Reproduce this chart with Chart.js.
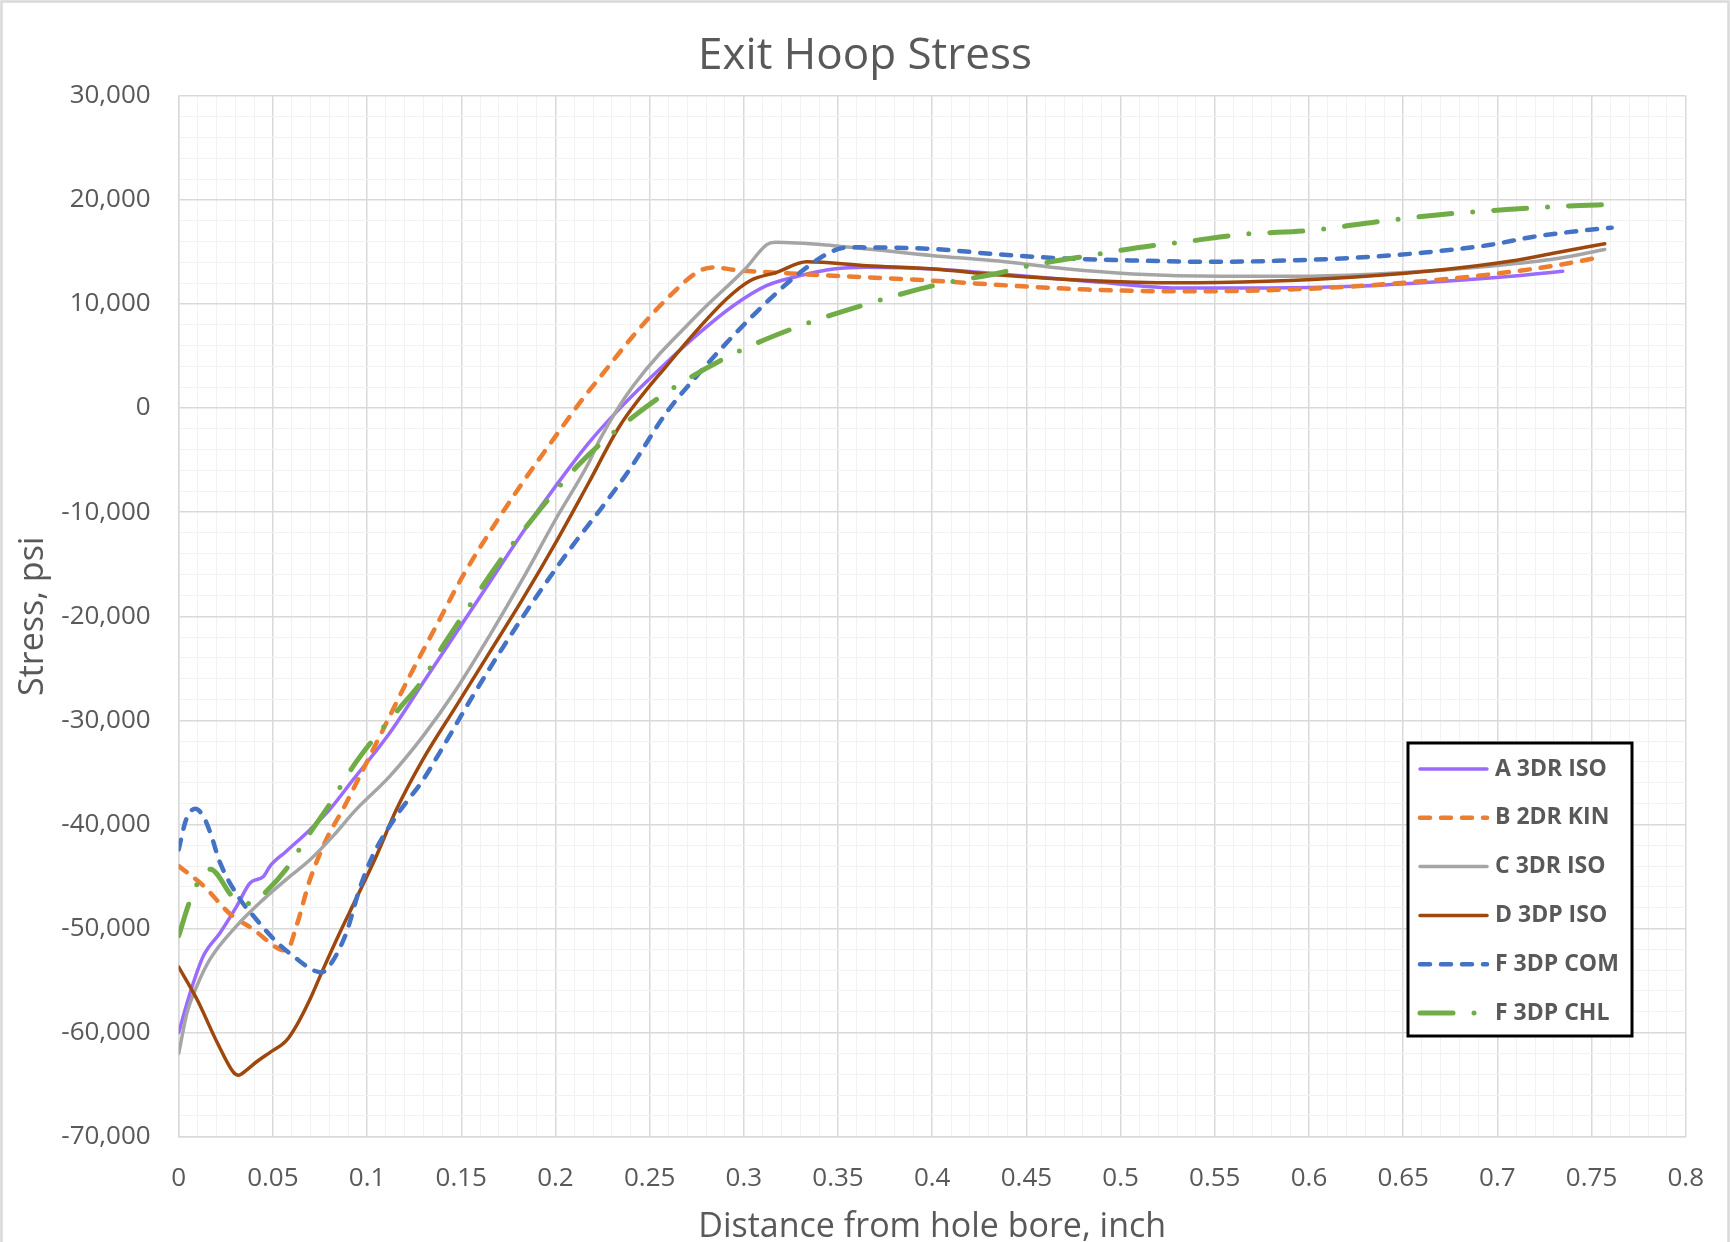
<!DOCTYPE html>
<html>
<head>
<meta charset="utf-8">
<title>Exit Hoop Stress</title>
<script src="https://cdn.jsdelivr.net/npm/chart.js@4.4.1/dist/chart.umd.min.js"></script>
<style>
  html, body { margin: 0; padding: 0; background: #fff; }
  canvas { display: block; }
</style>
</head>
<body>
<canvas id="chart" width="1730" height="1242"></canvas>
<script>
// series names, in legend order
const seriesNames = ['A 3DR ISO', 'B 2DR KIN', 'C 3DR ISO', 'D 3DP ISO', 'F 3DP COM', 'F 3DP CHL'];

// A 3DR ISO
const xA = [0, 0.0062, 0.0132, 0.022, 0.031, 0.038, 0.045, 0.0485, 0.057, 0.0697, 0.08, 0.0926, 0.112, 0.1296, 0.1472, 0.1648, 0.1824, 0.2, 0.2176, 0.2352, 0.259, 0.2767, 0.2944, 0.312, 0.33, 0.3476, 0.3653, 0.4006, 0.436, 0.489, 0.53, 0.5773, 0.6246, 0.672, 0.7074, 0.7347];
const yA = [-60000, -56100, -52600, -50400, -47800, -45600, -45000, -44000, -42600, -40500, -38600, -35700, -31220, -26420, -21610, -16810, -12010, -7520, -3360, 160, 4380, 7270, 9830, 11760, 12720, 13360, 13520, 13360, 12880, 12080, 11540, 11540, 11700, 12190, 12670, 13150];

// B 2DR KIN
const xB = [0, 0.0132, 0.0273, 0.0397, 0.0538, 0.0573, 0.0626, 0.0697, 0.0785, 0.0873, 0.0961, 0.1102, 0.1225, 0.1366, 0.1507, 0.1648, 0.1824, 0.2, 0.2141, 0.2236, 0.2413, 0.259, 0.2767, 0.2847, 0.2944, 0.33, 0.3653, 0.4006, 0.436, 0.4827, 0.53, 0.5773, 0.6246, 0.66, 0.6955, 0.7311, 0.7547];
const yB = [-44000, -45900, -48600, -50100, -52000, -52100, -49700, -45300, -41400, -38500, -35380, -30260, -25780, -20970, -16170, -12010, -7200, -2720, 800, 2950, 6950, 10470, 13200, 13520, 13290, 12880, 12560, 12240, 11820, 11380, 11220, 11320, 11700, 12190, 12830, 13700, 14500];

// C 3DR ISO
const xC = [0, 0.0044, 0.0097, 0.0168, 0.031, 0.045, 0.057, 0.0697, 0.082, 0.094, 0.112, 0.1296, 0.1472, 0.1648, 0.1824, 0.2, 0.2176, 0.2236, 0.2413, 0.2767, 0.3007, 0.3122, 0.3166, 0.3476, 0.4006, 0.4353, 0.4708, 0.5063, 0.5536, 0.601, 0.6484, 0.6956, 0.7311, 0.757];
const yC = [-62000, -58100, -55500, -52900, -49700, -47200, -45300, -43400, -41100, -38600, -35380, -31540, -27060, -21930, -16490, -10730, -5280, -3000, 2145, 9200, 13360, 15700, 15920, 15600, 14640, 14120, 13380, 12890, 12670, 12670, 12990, 13630, 14340, 15240];

// D 3DP ISO
const xD = [0, 0.0097, 0.0203, 0.029, 0.0317, 0.036, 0.0414, 0.0485, 0.057, 0.0626, 0.0697, 0.0767, 0.0855, 0.094, 0.105, 0.1155, 0.1296, 0.1472, 0.1648, 0.1824, 0.2, 0.2176, 0.2342, 0.259, 0.2908, 0.3033, 0.3174, 0.3334, 0.3653, 0.4006, 0.436, 0.4827, 0.53, 0.5773, 0.6246, 0.672, 0.7074, 0.7311, 0.757];
const yD = [-53700, -56800, -60900, -63800, -64100, -63600, -62800, -61900, -60800, -59300, -56800, -53900, -50400, -47200, -43000, -38600, -33780, -28660, -23540, -18410, -12970, -7200, -1700, 4060, 10470, 12240, 13040, 14060, 13680, 13360, 12780, 12250, 12030, 12190, 12600, 13310, 14120, 14920, 15790];

// F 3DP COM
const xE = [0, 0.004, 0.0088, 0.013, 0.0168, 0.022, 0.0326, 0.0397, 0.052, 0.0626, 0.0714, 0.0758, 0.08, 0.089, 0.096, 0.103, 0.1155, 0.1298, 0.1384, 0.156, 0.1736, 0.1912, 0.2088, 0.2264, 0.2395, 0.259, 0.2767, 0.2944, 0.312, 0.33, 0.3476, 0.3565, 0.4006, 0.4353, 0.4708, 0.5063, 0.5489, 0.5891, 0.6246, 0.66, 0.6955, 0.7193, 0.7429, 0.7607];
const yE = [-42400, -39500, -38500, -39200, -40800, -43700, -47200, -48800, -51300, -52900, -54000, -54200, -53600, -50400, -46200, -43000, -39200, -35700, -33140, -27700, -22570, -17770, -13290, -9130, -5860, -415, 3430, 6950, 10150, 13040, 15120, 15440, 15280, 14760, 14370, 14180, 14050, 14180, 14440, 14920, 15660, 16460, 17010, 17330];

// F 3DP CHL
const xG = [0, 0.0062, 0.0102, 0.0168, 0.029, 0.0384, 0.0467, 0.0591, 0.0647, 0.0705, 0.0811, 0.0868, 0.0926, 0.1032, 0.1173, 0.1296, 0.1401, 0.1507, 0.163, 0.1736, 0.186, 0.1983, 0.2123, 0.2264, 0.259, 0.2944, 0.33, 0.3653, 0.4006, 0.436, 0.4495, 0.4874, 0.5087, 0.537, 0.5655, 0.601, 0.6365, 0.672, 0.7074, 0.738, 0.7607];
const yG = [-50700, -47200, -45600, -44300, -47000, -47600, -46400, -43800, -42200, -40600, -37800, -36100, -34420, -31860, -28820, -26100, -22890, -20000, -16650, -13930, -11050, -8320, -5440, -3040, 1500, 5190, 7910, 9990, 11760, 13000, 13600, 14760, 15400, 16050, 16700, 17070, 17910, 18620, 19100, 19420, 19550];

// axis ticks (labelled) and minor grid steps
const xTickValues = [0, 0.05, 0.1, 0.15, 0.2, 0.25, 0.3, 0.35, 0.4, 0.45, 0.5, 0.55, 0.6, 0.65, 0.7, 0.75, 0.8];
const yTickValues = [-70000, -60000, -50000, -40000, -30000, -20000, -10000, 0, 10000, 20000, 30000];
const xMinorStep = 0.01;
const yMinorStep = 2000;

const seriesX = [xA, xB, xC, xD, xE, xG];
const seriesY = [yA, yB, yC, yD, yE, yG];

// line styles (Excel look)
const lineColors = ['#9B6AFF', '#ED7D31', '#A5A5A5', '#9E480E', '#4472C4', '#70AD47'];
const lineWidths = [3.5, 4.5, 3.5, 3.5, 4.5, 5];
const lineDashes = [[], [10, 11], [], [], [10, 11], [33, 21, 0, 21]];

const textColor = '#595959';
const fontFamily = '"Open Sans", "Noto Sans", sans-serif';

const datasets = seriesNames.map((name, i) => ({
  label: name,
  data: seriesX[i].map((x, j) => ({ x: x, y: seriesY[i][j] })),
  borderColor: lineColors[i],
  backgroundColor: lineColors[i],
  borderWidth: lineWidths[i],
  borderDash: lineDashes[i],
  borderCapStyle: 'round',
  borderJoinStyle: 'round',
  cubicInterpolationMode: 'monotone',
  pointRadius: 0,
  fill: false,
  yAxisID: 'y',
  order: seriesNames.length - i // later series drawn on top, like Excel
}));

function buildTicks(min, max, step) {
  const out = [];
  const n = Math.round((max - min) / step);
  for (let i = 0; i <= n; i++) out.push({ value: +(min + i * step).toFixed(6) });
  return out;
}
const isMajorX = v => xTickValues.some(t => Math.abs(t - v) < 1e-6);
const isMajorY = v => yTickValues.some(t => Math.abs(t - v) < 1e-6);

// page frame + white background
const framePlugin = {
  id: 'frame',
  beforeDraw(chart) {
    const ctx = chart.ctx;
    ctx.save();
    ctx.fillStyle = '#fff';
    ctx.fillRect(0, 0, chart.width, chart.height);
    ctx.restore();
  },
  afterDraw(chart) {
    const ctx = chart.ctx;
    ctx.save();
    ctx.strokeStyle = '#d9d9d9';
    ctx.lineWidth = 2.5;
    ctx.strokeRect(1.5, 1.5, chart.width - 3, chart.height + 10);
    ctx.restore();
  }
};

// boxed legend inside the plot, drawn with the datasets' own styles
const boxLegend = {
  id: 'boxLegend',
  afterDraw(chart) {
    const ctx = chart.ctx;
    const box = { left: 1408, top: 743, width: 224, height: 293 };
    const rowTop = 769, rowGap = 48.8, x0 = 1420, x1 = 1487, textX = 1495;
    ctx.save();
    ctx.fillStyle = '#fff';
    ctx.fillRect(box.left, box.top, box.width, box.height);
    ctx.lineWidth = 3;
    ctx.strokeStyle = '#000';
    ctx.strokeRect(box.left, box.top, box.width, box.height);
    chart.data.datasets.forEach((ds, i) => {
      const y = rowTop + i * rowGap;
      ctx.beginPath();
      ctx.setLineDash(ds.borderDash);
      ctx.lineCap = 'round';
      ctx.lineWidth = ds.borderWidth;
      ctx.strokeStyle = ds.borderColor;
      ctx.moveTo(x0, y);
      ctx.lineTo(x1, y);
      ctx.stroke();
      ctx.setLineDash([]);
      ctx.font = 'bold 23px ' + fontFamily;
      ctx.fillStyle = textColor;
      ctx.textAlign = 'left';
      ctx.textBaseline = 'middle';
      ctx.fillText(ds.label, textX, y);
    });
    ctx.restore();
  }
};

const ctx = document.getElementById('chart').getContext('2d');
new Chart(ctx, {
  type: 'line',
  data: { datasets: datasets },
  plugins: [framePlugin, boxLegend],
  options: {
    responsive: false,
    animation: false,
    devicePixelRatio: 1,
    layout: { padding: { left: 0, right: 0, top: 0, bottom: 0 } },
    plugins: {
      legend: { display: false },
      tooltip: { enabled: false },
      title: {
        display: true,
        text: 'Exit Hoop Stress',
        color: textColor,
        font: { family: fontFamily, size: 44, weight: 'normal', lineHeight: 1.2 },
        padding: { top: 30, bottom: 13 }
      }
    },
    scales: {
      x: {
        type: 'linear',
        min: 0,
        max: 0.8,
        afterBuildTicks: scale => { scale.ticks = buildTicks(0, 0.8, xMinorStep); },
        afterFit: scale => { scale.height = 105.3; },
        ticks: {
          autoSkip: false,
          maxRotation: 0,
          padding: 26,
          color: textColor,
          font: { family: fontFamily, size: 26 },
          callback: v => isMajorX(v) ? String(+v.toFixed(2)) : ''
        },
        grid: {
          drawTicks: false,
          color: c => isMajorX(c.tick.value) ? '#d9d9d9' : '#f2f2f2',
          lineWidth: c => isMajorX(c.tick.value) ? 1.5 : 1
        },
        border: { color: '#d9d9d9', width: 1.5 },
        title: {
          display: true,
          text: 'Distance from hole bore, inch',
          color: textColor,
          font: { family: fontFamily, size: 34, lineHeight: 0.85 },
          padding: { top: 0, bottom: 0 }
        }
      },
      y: {
        type: 'linear',
        min: -70000,
        max: 30000,
        afterBuildTicks: scale => { scale.ticks = buildTicks(-70000, 30000, yMinorStep); },
        afterFit: scale => { scale.width = 178.7; },
        ticks: {
          autoSkip: false,
          padding: 28,
          color: textColor,
          font: { family: fontFamily, size: 26 },
          callback: v => isMajorY(v) ? v.toLocaleString('en-US') : ''
        },
        grid: {
          drawTicks: false,
          color: c => isMajorY(c.tick.value) ? '#d9d9d9' : '#f2f2f2',
          lineWidth: c => isMajorY(c.tick.value) ? 1.5 : 1
        },
        border: { color: '#d9d9d9', width: 1.5 },
        title: {
          display: true,
          text: 'Stress, psi',
          color: textColor,
          font: { family: fontFamily, size: 34, lineHeight: 1.2 },
          padding: { top: 13, bottom: 0 }
        }
      },
      // empty right-hand spacer so the title centres on the whole page
      spacer: {
        type: 'linear',
        position: 'right',
        min: 0,
        max: 1,
        afterFit: scale => { scale.width = 44; },
        grid: { display: false, drawTicks: false },
        border: { display: false },
        ticks: { display: false }
      }
    }
  }
});
</script>
</body>
</html>
